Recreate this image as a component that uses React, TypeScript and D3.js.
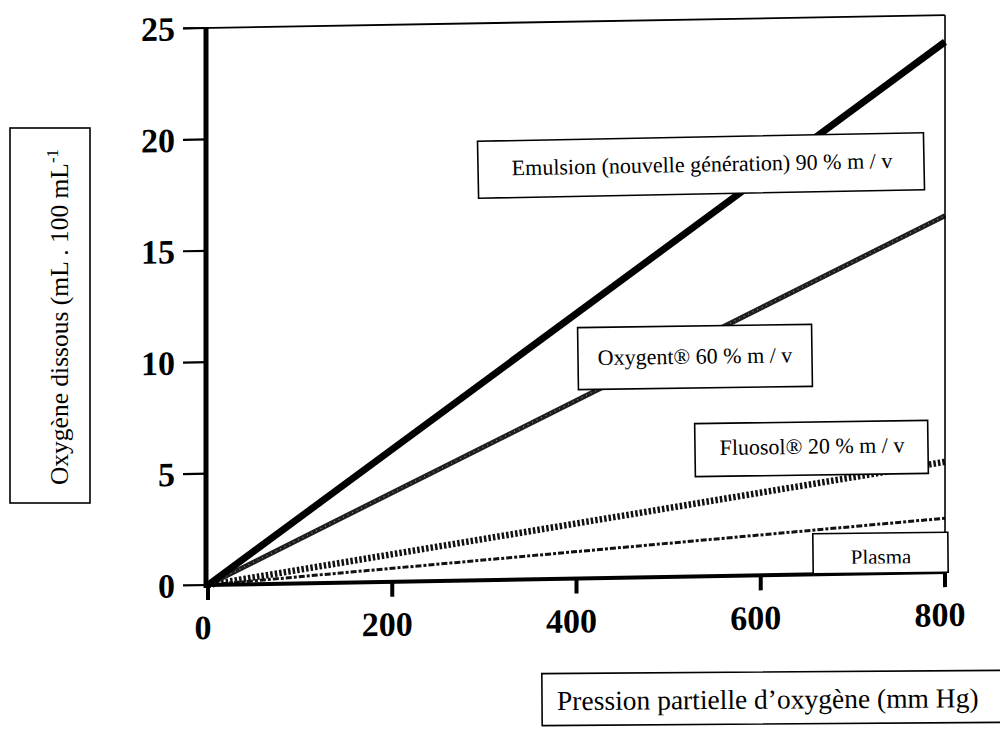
import React from "react";
import * as d3 from "d3";

const pressures = [0, 800];
const emulsion = [0, 23.8];
const oxygent = [0, 16.0];
const fluosol = [0, 4.95];
const plasma = [0, 2.42];
const xTicks = [0, 200, 400, 600, 800];
const yTicks = [0, 5, 10, 15, 20, 25];
const labelEmulsion = "Emulsion (nouvelle génération) 90 %  m / v";
const labelOxygent = "Oxygent® 60 % m / v";
const labelFluosol = "Fluosol® 20 % m / v";
const labelPlasma = "Plasma";
const xTitle = "Pression partielle d’oxygène (mm Hg)";
const yTitle = "Oxygène dissous (mL . 100 mL";

export default function App() {
  const W = 1000, H = 730;
  const x = d3.scaleLinear().domain([0, 800]).range([208, 945]);
  const y = d3.scaleLinear().domain([0, 25]).range([585, 28]);
  const x0 = x(0), y0 = y(0);
  const skew = `translate(${x0},${y0}) skewY(-1.0) translate(${-x0},${-y0})`;
  const line = (vals: number[]) =>
    d3.line<number>().x((_, i) => x(pressures[i])).y((v) => y(v))(vals) || "";
  const serif = "'Liberation Serif', 'Times New Roman', serif";

  return (
    <svg width={W} height={H} style={{ position: "absolute", left: 0, top: 0, background: "#fff" }}>
      <defs>
        <clipPath id="plasmaClip">
          <rect x={800} y={520} width={160} height={43.5} />
        </clipPath>
      </defs>
      <rect x={0} y={0} width={W} height={H} fill="#fff" />
      <g transform={skew}>
        {/* series */}
        <path d={line(plasma)} fill="none" stroke="#111" strokeWidth={3} strokeDasharray="6 2 3 2" />
        <path d={line(fluosol)} fill="none" stroke="#111" strokeWidth={6.5} strokeDasharray="2.5 2" />
        <path d={line(oxygent)} fill="none" stroke="#1e1e1e" strokeWidth={5} />
        <path d={line(oxygent)} fill="none" stroke="#8a8a8a" strokeWidth={1.2} strokeDasharray="1 4" />
        <path d={line(emulsion)} fill="none" stroke="#000" strokeWidth={7} />
        {/* frame */}
        <line x1={183} x2={x(800)} y1={y(25)} y2={y(25)} stroke="#000" strokeWidth={1.8} />
        <line x1={x(800)} x2={x(800)} y1={y(25)} y2={y(0)} stroke="#000" strokeWidth={1.6} />
        <line x1={x0 - 2} x2={x0 - 2} y1={y(25)} y2={y(0) + 3} stroke="#000" strokeWidth={5} />
        <line x1={x0 - 4} x2={x(800) + 2} y1={y(0)} y2={y(0)} stroke="#000" strokeWidth={4} />
        {yTicks.map((t) => (
          <g key={"y" + t}>
            <line x1={183} x2={x0} y1={y(t)} y2={y(t)} stroke="#000" strokeWidth={2.2} />
            <text x={175} y={y(t)} dy="0.35em" textAnchor="end" fontFamily={serif}
              fontWeight="bold" fontSize={34}>{t}</text>
          </g>
        ))}
        {xTicks.map((t) => (
          <g key={"x" + t}>
            <line x1={x(t)} x2={x(t)} y1={y(0)} y2={y(0) + 15} stroke="#000" strokeWidth={4} />
            <text x={x(t) - 5} y={y(0) + 54} textAnchor="middle" fontFamily={serif}
              fontWeight="bold" fontSize={34}>{t}</text>
          </g>
        ))}
      </g>

      {/* series labels */}
      <g fontFamily={serif} fill="#000">
        <g transform="rotate(-1.1, 700, 165)">
          <rect x={478} y={137} width={446} height={57} fill="#fff" stroke="#000" strokeWidth={1.6} />
          <text x={702} y={164} dy="0.35em" textAnchor="middle" fontSize={22}>{labelEmulsion}</text>
        </g>
        <g transform="rotate(-0.8, 695, 357)">
          <rect x={578} y={326} width={234} height={62} fill="#fff" stroke="#000" strokeWidth={1.6} />
          <text x={695} y={356} dy="0.35em" textAnchor="middle" fontSize={22}>{labelOxygent}</text>
        </g>
        <g transform="rotate(-0.8, 811, 448)">
          <rect x={695} y={422} width={233} height={53} fill="#fff" stroke="#000" strokeWidth={1.6} />
          <text x={812} y={446} dy="0.35em" textAnchor="middle" fontSize={22}>{labelFluosol}</text>
        </g>
        <g transform="rotate(-0.6, 880, 553)">
          <rect x={813} y={533} width={135} height={40} fill="#fff" stroke="#000" strokeWidth={1.6} />
          <text x={881} y={564} textAnchor="middle" fontSize={21} clipPath="url(#plasmaClip)">{labelPlasma}</text>
        </g>
        {/* x title box */}
        <g transform="rotate(-0.4, 770, 698)">
          <rect x={542} y={672} width={470} height={52} fill="#fff" stroke="#000" strokeWidth={1.6} />
          <text x={557} y={699} dy="0.35em" textAnchor="start" fontSize={27.5}>{xTitle}</text>
        </g>
        {/* y title box */}
        <rect x={10} y={128} width={80} height={375} fill="#fff" stroke="#000" strokeWidth={1.6} />
        <text transform="translate(68,317) rotate(-90)" textAnchor="middle" fontSize={25.5}>
          {yTitle}
          <tspan dy="-10" fontSize={17}>-1</tspan>
        </text>
      </g>
    </svg>
  );
}
